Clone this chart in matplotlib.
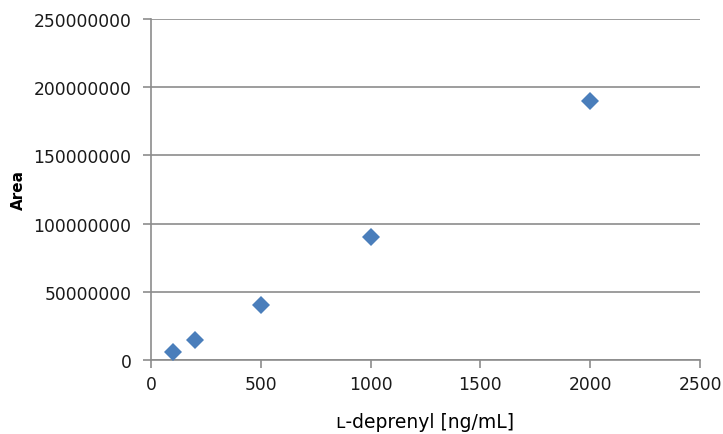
import matplotlib.pyplot as plt
import numpy as np

conc = [100, 200, 500, 1000, 2000]
area = [6.2e6, 14.6e6, 40.6e6, 90.4e6, 190.2e6]
xticks = [0, 500, 1000, 1500, 2000, 2500]
yticks = [0, 50000000, 100000000, 150000000, 200000000, 250000000]

fig = plt.figure(figsize=(7.23, 4.35), dpi=100)
ax = fig.add_axes([151 / 723, 74 / 435, 549 / 723, 341 / 435])

ax.plot(conc, area, linestyle="none", marker="D", markersize=9,
        markeredgewidth=0, color="#4a7ebb", zorder=3)

ax.set_xlim(0, 2500)
ax.set_ylim(0, 250000000)
ax.set_xticks(xticks)
ax.set_yticks(yticks)
ax.set_xticklabels([str(t) for t in xticks])
ax.set_yticklabels([str(t) for t in yticks])

ax.grid(axis="y", color="#8c8c8c", linewidth=1.2)
ax.set_axisbelow(True)
for s in ["top", "right"]:
    ax.spines[s].set_visible(False)
for s in ["left", "bottom"]:
    ax.spines[s].set_color("#8c8c8c")
    ax.spines[s].set_linewidth(1.2)
ax.tick_params(colors="#8c8c8c", labelcolor="#1a1a1a", length=6,
               width=1.2, labelsize=12.3)
ax.tick_params(axis="y", pad=8)
ax.tick_params(axis="x", pad=5)

ax.set_ylabel("Area", fontsize=11, fontweight="bold")
ax.yaxis.set_label_coords(-0.228, 0.5)
ax.set_xlabel("\u029f-deprenyl [ng/mL]", fontsize=13.5)
ax.xaxis.set_label_coords(0.5, -0.153)

fig.savefig("out.png", dpi=100)
